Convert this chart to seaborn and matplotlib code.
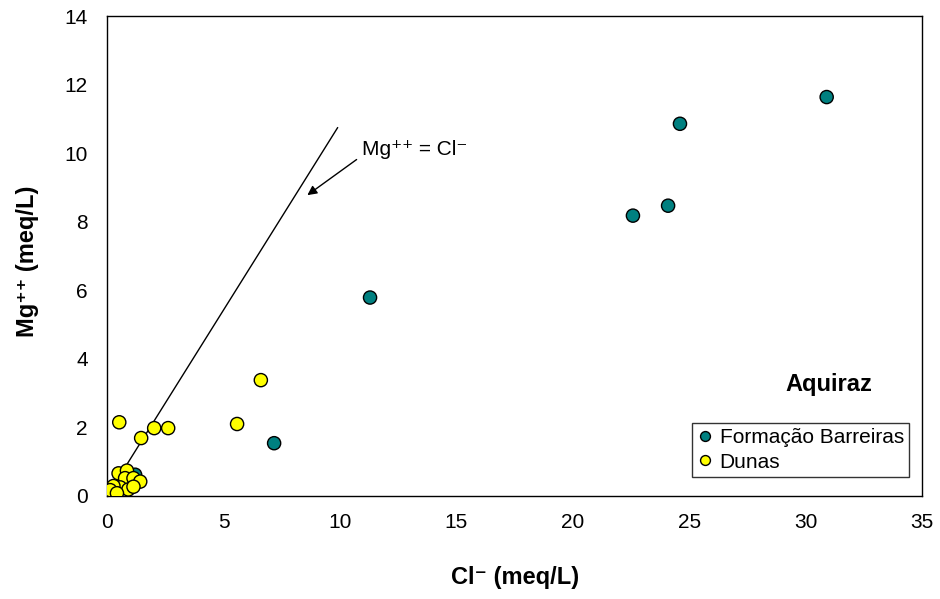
import pandas as pd
import matplotlib
matplotlib.use("Agg")
import matplotlib.pyplot as plt
import seaborn as sns

# Formação Barreiras
fb_cl = [0.06, 0.27, 0.15, 1.20, 1.00, 0.80, 7.17, 11.29, 22.58, 24.09, 24.60, 30.90]
fb_mg = [0.08, 0.03, 0.15, 0.62, 0.40, 0.30, 1.54, 5.79, 8.18, 8.47, 10.86, 11.64]
# Dunas
du_cl = [0.49, 0.85, 0.77, 1.13, 1.42, 0.56, 0.91, 0.27, 0.13, 0.42, 1.13,
         0.52, 1.46, 2.02, 2.62, 5.58, 6.60]
du_mg = [0.66, 0.74, 0.52, 0.52, 0.42, 0.25, 0.19, 0.29, 0.17, 0.08, 0.27,
         2.15, 1.69, 1.98, 1.98, 2.10, 3.38]
groups = ["Formação Barreiras", "Dunas"]
colors = ["#008080", "#FFFF00"]
line_x = [0, 9.9]
line_y = [0, 10.75]

df = pd.DataFrame({
    "cl": fb_cl + du_cl,
    "mg": fb_mg + du_mg,
    "grupo": [groups[0]] * len(fb_cl) + [groups[1]] * len(du_cl),
})

sns.set_style("white")
plt.rcParams["font.family"] = ["Liberation Sans", "DejaVu Sans"]
plt.rcParams["text.color"] = "black"
plt.rcParams["axes.labelcolor"] = "black"

fig, ax = plt.subplots(figsize=(9.4, 5.99), dpi=100)
fig.subplots_adjust(left=0.114, right=0.981, top=0.973, bottom=0.172)

ax.plot(line_x, line_y, color="black", lw=1)
sns.scatterplot(data=df, x="cl", y="mg", hue="grupo", palette=colors,
                s=90, edgecolor="black", linewidth=1, ax=ax, zorder=3)

ax.set_xlim(0, 35)
ax.set_ylim(0, 14)
ax.set_xticks(range(0, 36, 5))
ax.set_yticks(range(0, 15, 2))
ax.tick_params(direction="in", length=5, color="#808080", labelcolor="black",
               labelsize=15)
ax.tick_params(axis="x", pad=12)
ax.tick_params(axis="y", pad=14)
for sp in ax.spines.values():
    sp.set_color("black")
    sp.set_linewidth(1)

ax.set_xlabel("Cl⁻ (meq/L)", fontsize=17, fontweight="bold")
ax.set_ylabel("Mg⁺⁺ (meq/L)", fontsize=17, fontweight="bold")
ax.xaxis.set_label_coords(0.5, -0.145)
ax.yaxis.set_label_coords(-0.084, 0.49)

ax.annotate("Mg⁺⁺ = Cl⁻", xy=(8.5, 8.73), xytext=(10.95, 10.1),
            fontsize=15, va="center", ha="left", color="black",
            arrowprops=dict(arrowstyle="-|>", color="black", lw=1,
                            relpos=(0, 0.2), shrinkA=2, mutation_scale=14))

ax.text(31.0, 3.26, "Aquiraz", fontsize=17, fontweight="bold", color="black",
        ha="center", va="center")

leg = ax.legend(loc="lower right", bbox_to_anchor=(0.984, 0.04), fontsize=15,
                frameon=True, fancybox=False, borderpad=0.25, handlelength=0.8,
                handletextpad=0.3, labelspacing=0.25, markerscale=0.75,
                borderaxespad=0, labelcolor="black")
leg.get_frame().set_edgecolor("black")
leg.get_frame().set_linewidth(1)

fig.savefig("out.png", dpi=100)
